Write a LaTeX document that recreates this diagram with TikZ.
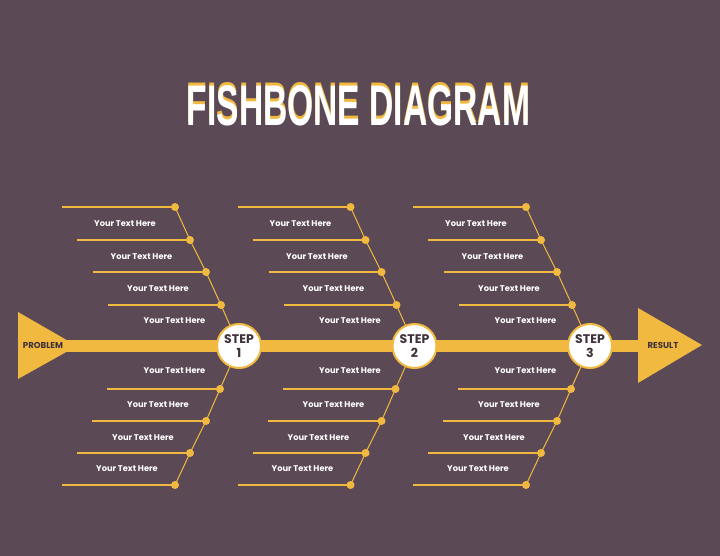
\documentclass[tikz,border=0pt]{standalone}
\usepackage{fontspec}
\usepackage{graphicx}
\setmainfont{Poppins}
\newfontfamily\titlefont{Liberation Sans}
\definecolor{bgc}{HTML}{5B4A55}
\definecolor{fy}{HTML}{F2B940}
\definecolor{dk}{HTML}{3F3139}
\newcommand{\titletext}{\titlefont\bfseries\resizebox{343pt}{40pt}{FISHBONE DIAGRAM}}
\begin{document}
\begin{tikzpicture}[x=1pt,y=-1pt,
  dot/.style={circle,fill=fy,inner sep=0pt,minimum size=8pt},
  bone/.style={draw=fy,line width=1.5pt},
  diag/.style={draw=fy,line width=1pt},
  bonetext/.style={text=white,inner sep=0pt,font=\bfseries\fontsize{8.3}{10}\selectfont},
  stepc/.style={circle,draw=fy,line width=2pt,fill=white,minimum size=44pt,inner sep=0pt,
    align=center,text=dk,font=\bfseries\fontsize{12.5}{14.5}\selectfont},
  endlabel/.style={text=dk,inner sep=0pt,font=\bfseries\fontsize{8.6}{10}\selectfont}]
\fill[bgc] (0,0) rectangle (720,556);
\useasboundingbox (0,0) rectangle (720,556);
% title: yellow copy raised behind white copy
\node[inner sep=0pt] (title) at (358.5,104) {\rlap{\raisebox{3pt}{\color{fy}\titletext}}{\color{white}\titletext}};
% spine and ends
\coordinate (spineL) at (60,346);
\coordinate (spineR) at (642,346);
\draw[fy,line width=12pt] (spineL) -- (spineR);
\fill[fy] (18,312) -- (18,379) -- (77,346) -- cycle;
\fill[fy] (638,308) -- (638,383) -- (702,345) -- cycle;
\node[endlabel] (problem) at (43,345.5) {PROBLEM};
\node[endlabel] (result) at (663,345.5) {RESULT};
\foreach \k in {0,1,2}{
\begin{scope}[xshift=\k*175.5pt]
  \coordinate (c\k) at (239,346);
  \node[dot] (u\k-1) at (175,207) {};
  \node[dot] (u\k-2) at (190,240) {};
  \node[dot] (u\k-3) at (206,272) {};
  \node[dot] (u\k-4) at (221,305) {};
  \node[dot] (d\k-1) at (220,389) {};
  \node[dot] (d\k-2) at (206,421) {};
  \node[dot] (d\k-3) at (190,453) {};
  \node[dot] (d\k-4) at (175,485) {};
  \coordinate (ua\k-1) at (62,207);
  \coordinate (ua\k-2) at (77,240);
  \coordinate (ua\k-3) at (93,272);
  \coordinate (ua\k-4) at (108,305);
  \coordinate (da\k-1) at (107,389);
  \coordinate (da\k-2) at (92,421);
  \coordinate (da\k-3) at (77,453);
  \coordinate (da\k-4) at (62,485);
  \draw[diag] (u\k-1.center) -- (u\k-2.center) -- (u\k-3.center) -- (u\k-4.center) -- (c\k);
  \draw[diag] (c\k) -- (d\k-1.center) -- (d\k-2.center) -- (d\k-3.center) -- (d\k-4.center);
  \foreach \i in {1,2,3,4}{
    \draw[bone] (ua\k-\i) -- (u\k-\i.center);
    \draw[bone] (da\k-\i) -- (d\k-\i.center);
  }
  \node[bonetext] (tu\k-1) at (125,224) {Your Text Here};
  \node[bonetext] (tu\k-2) at (141.5,257) {Your Text Here};
  \node[bonetext] (tu\k-3) at (158,289) {Your Text Here};
  \node[bonetext] (tu\k-4) at (174.5,321) {Your Text Here};
  \node[bonetext] (td\k-1) at (174.5,371) {Your Text Here};
  \node[bonetext] (td\k-2) at (158,405) {Your Text Here};
  \node[bonetext] (td\k-3) at (143,438) {Your Text Here};
  \node[bonetext] (td\k-4) at (127,469) {Your Text Here};
\end{scope}
}
\node[stepc] (s1) at (c0) {STEP\\1};
\node[stepc] (s2) at (c1) {STEP\\2};
\node[stepc] (s3) at (c2) {STEP\\3};
\end{tikzpicture}
\end{document}
